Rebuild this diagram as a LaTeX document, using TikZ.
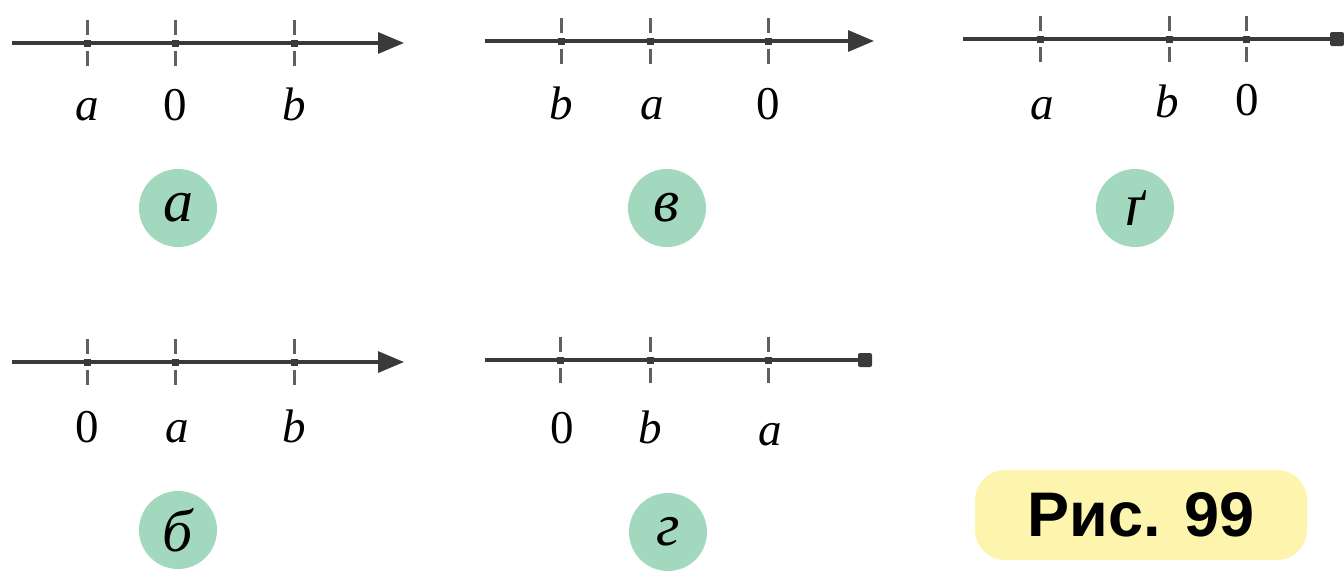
\documentclass[tikz,border=0pt]{standalone}
\usepackage{fontspec}
\setmainfont{Liberation Serif}
\newfontfamily\capfont{Liberation Sans}
\usetikzlibrary{arrows.meta}
\definecolor{axiscol}{HTML}{3A3A3A}
\definecolor{tickcol}{HTML}{606060}
\definecolor{mint}{HTML}{A2D9BE}
\definecolor{capyellow}{HTML}{FDF4AE}
\tikzset{
  axis/.style={draw=axiscol, line width=3.2pt},
  arrowaxis/.style={axis, -{Triangle[length=26pt,width=21pt]}},
  tickmark/.style={draw=tickcol, line width=3pt},
  lbl/.style={font=\fontsize{47}{47}\selectfont, inner sep=0pt, anchor=base},
  badge/.style={circle, fill=mint, minimum size=78pt, inner sep=0pt, font=\fontsize{60}{60}\selectfont\itshape},
  blunt/.style={fill=axiscol, rounded corners=2pt},
}
\newcommand{\tk}[2]{%
  \draw[tickmark] (#1,#2-23) -- (#1,#2-8);
  \draw[tickmark] (#1,#2+8) -- (#1,#2+23);
  \fill[axiscol] (#1-3.5,#2-3.5) rectangle (#1+3.5,#2+3.5);
}
\begin{document}
\begin{tikzpicture}[x=1pt,y=-1pt]
\useasboundingbox (0,0) rectangle (1344,573);
% ---- а
\coordinate (aS) at (12,43); \coordinate (aE) at (404,43);
\draw[arrowaxis] (aS) -- (aE);
\tk{87}{43}\tk{175}{43}\tk{294}{43}
\node[lbl] (aL1) at (87,120) {\textit{a}};
\node[lbl] (aL2) at (175,120) {0};
\node[lbl] (aL3) at (294,120) {\textit{b}};
\node[badge] (aB) at (178,208) {а};
% ---- в
\coordinate (vS) at (485,41); \coordinate (vE) at (874,41);
\draw[arrowaxis] (vS) -- (vE);
\tk{561}{41}\tk{650}{41}\tk{768}{41}
\node[lbl] (vL1) at (561,119) {\textit{b}};
\node[lbl] (vL2) at (652,119) {\textit{a}};
\node[lbl] (vL3) at (768,119) {0};
\node[badge] (vB) at (667,208) {в};
% ---- ґ
\coordinate (gS) at (963,39); \coordinate (gE) at (1332,39);
\draw[axis] (gS) -- (gE);
\fill[blunt] (1330,32) rectangle (1344,46);
\tk{1040}{39}\tk{1169}{39}\tk{1246}{39}
\node[lbl] (gL1) at (1042,119) {\textit{a}};
\node[lbl] (gL2) at (1167,117) {\textit{b}};
\node[lbl] (gL3) at (1247,115) {0};
\node[badge] (gB) at (1135,208) {ґ};
% ---- б
\coordinate (bS) at (12,362); \coordinate (bE) at (404,362);
\draw[arrowaxis] (bS) -- (bE);
\tk{87}{362}\tk{175}{362}\tk{294}{362}
\node[lbl] (bL1) at (87,442) {0};
\node[lbl] (bL2) at (177,442) {\textit{a}};
\node[lbl] (bL3) at (294,442) {\textit{b}};
\node[badge] (bB) at (178,530) {б};
% ---- г
\coordinate (hS) at (485,360); \coordinate (hE) at (862,360);
\draw[axis] (hS) -- (hE);
\fill[blunt] (858,353) rectangle (872,367);
\tk{560}{360}\tk{650}{360}\tk{768}{360}
\node[lbl] (hL1) at (562,443) {0};
\node[lbl] (hL2) at (650,443) {\textit{b}};
\node[lbl] (hL3) at (770,445) {\textit{a}};
\node[badge] (hB) at (668,532) {г};
% ---- caption
\node[fill=capyellow, rounded corners=30pt, minimum width=332pt, minimum height=90pt, inner sep=0pt,
      font=\fontsize{63}{63}\selectfont\capfont\bfseries] (cap) at (1141,515) {Рис. 99};
\end{tikzpicture}
\end{document}
